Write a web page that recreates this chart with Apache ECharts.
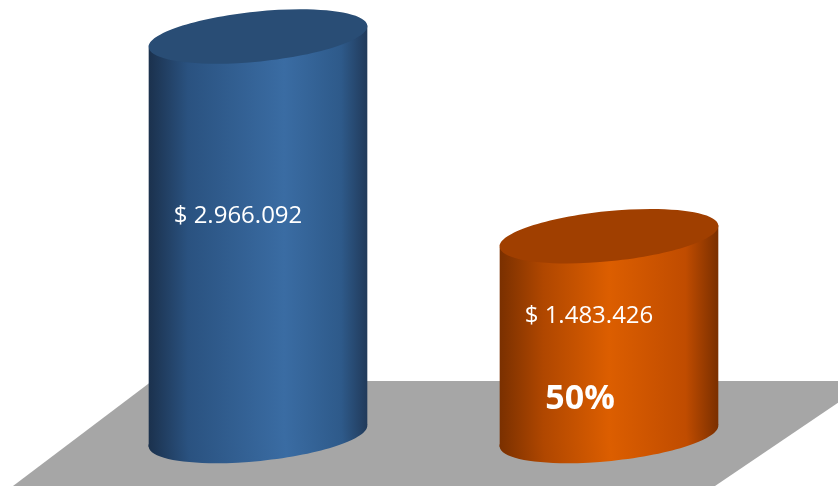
<!DOCTYPE html>
<html>
<head>
<meta charset="utf-8">
<script src="https://cdn.jsdelivr.net/npm/echarts@6/dist/echarts.min.js"></script>
<style>html,body{margin:0;padding:0;background:#fff;}#c{width:838px;height:486px;}</style>
</head>
<body>
<div id="c"></div>
<script>
var categories = ['Total', 'Parcial'];
var values = [2966092, 1483426];
var labels = ['$ 2.966.092', '$ 1.483.426'];

var bodyStops = [
  [{offset:0,color:'#1b314d'},{offset:0.18,color:'#2a5280'},{offset:0.62,color:'#3a6ca3'},{offset:0.88,color:'#2e5a8a'},{offset:1,color:'#213a5a'}],
  [{offset:0,color:'#7a3000'},{offset:0.2,color:'#b04700'},{offset:0.5,color:'#dc5e00'},{offset:0.85,color:'#c04c00'},{offset:1,color:'#7a2f00'}]
];
var topColors = ['#294d75', '#a03f00'];

var chart = echarts.init(document.getElementById('c'), null, {renderer:'canvas'});
var ang = 0.1;
function renderItem(params, api) {
  var i = api.value(0);
  var top = api.coord([i, api.value(1)]);
  var base = api.coord([i, 0]);
  var band = api.size([1, 0])[0];
  var a = band * 0.313;
  var b = 25;
  var dx = a * Math.cos(ang), dy = a * Math.sin(ang);
  var grad = {type:'linear', x:0, y:0, x2:1, y2:0, colorStops: bodyStops[i]};
  var children = [
    {type:'ellipse', x: base[0], y: base[1], rotation: ang, shape:{cx:0, cy:0, rx:a, ry:b}, style:{fill: grad}},
    {type:'polygon', shape:{points:[[top[0]-dx, top[1]+dy],[top[0]+dx, top[1]-dy],[base[0]+dx, base[1]-dy],[base[0]-dx, base[1]+dy]]}, style:{fill: grad}},
    {type:'ellipse', x: top[0], y: top[1], rotation: ang, shape:{cx:0, cy:0, rx:a, ry:b}, style:{fill: topColors[i]}},
    {type:'text', x: top[0] - 20, y: (top[1] + base[1]) / 2 - 20, style:{text: labels[i], fill:'#fff', font:'24px "Open Sans"', textAlign:'center', textVerticalAlign:'middle'}}
  ];
  if (i === 1) {
    var pct = Math.round(values[1] / values[0] * 100) + '%';
    children.push({type:'text', x: top[0] - 29, y: base[1] - 37, style:{text: pct, fill:'#fff', font:'bold 34px "Open Sans"', textAlign:'center', textVerticalAlign:'middle'}});
  }
  return {type:'group', children: children};
}

chart.setOption({
  animation:false,
  grid:{left:82.5, right:53.5, top:32, bottom:50},
  xAxis:{type:'category', data:categories, show:false},
  yAxis:{type:'value', min:0, max:3000000, show:false},
  graphic:[{type:'polygon', z:-10, shape:{points:[[152,381],[870,381],[715,486],[13,486]]}, style:{fill:'#a6a6a6'}}],
  series:[{type:'custom', renderItem: renderItem, data: values.map(function(v,i){return [i, v];}), encode:{x:0, y:1}}]
});
</script>
</body>
</html>
